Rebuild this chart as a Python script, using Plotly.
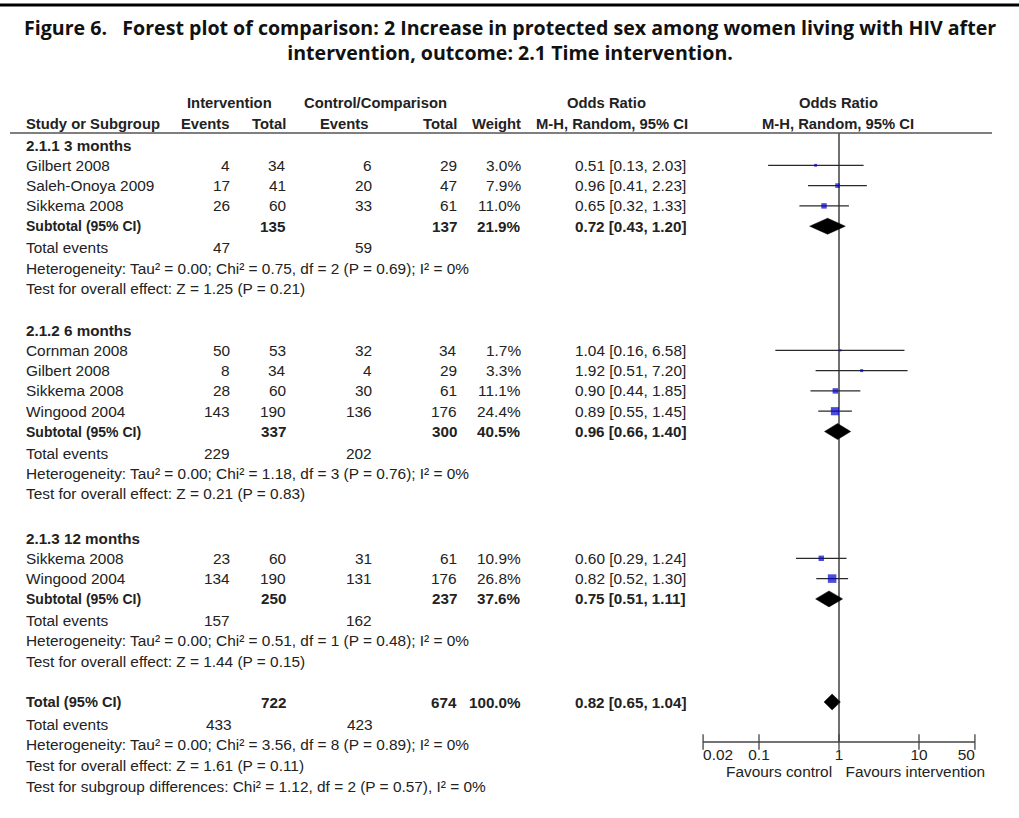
import plotly.graph_objects as go

# ---------------- data ----------------
title_lines = ["Figure 6.   Forest plot of comparison: 2 Increase in protected sex among women living with HIV after",
               "intervention, outcome: 2.1 Time intervention."]

group_labels = ["2.1.1 3 months", "2.1.2 6 months", "2.1.3 12 months"]

study_names = ["Gilbert 2008", "Saleh-Onoya 2009", "Sikkema 2008",
               "Cornman 2008", "Gilbert 2008", "Sikkema 2008", "Wingood 2004",
               "Sikkema 2008", "Wingood 2004"]
study_group = [0, 0, 0, 1, 1, 1, 1, 2, 2]
int_events = [4, 17, 26, 50, 8, 28, 143, 23, 134]
int_total = [34, 41, 60, 53, 34, 60, 190, 60, 190]
ctl_events = [6, 20, 33, 32, 4, 30, 136, 31, 131]
ctl_total = [29, 47, 61, 34, 29, 61, 176, 61, 176]
weights = [3.0, 7.9, 11.0, 1.7, 3.3, 11.1, 24.4, 10.9, 26.8]
or_est = [0.51, 0.96, 0.65, 1.04, 1.92, 0.90, 0.89, 0.60, 0.82]
or_lo = [0.13, 0.41, 0.32, 0.16, 0.51, 0.44, 0.55, 0.29, 0.52]
or_hi = [2.03, 2.23, 1.33, 6.58, 7.20, 1.85, 1.45, 1.24, 1.30]

sub_int_total = [135, 337, 250]
sub_ctl_total = [137, 300, 237]
sub_weight = [21.9, 40.5, 37.6]
sub_or = [0.72, 0.96, 0.75]
sub_lo = [0.43, 0.66, 0.51]
sub_hi = [1.20, 1.40, 1.11]
sub_int_events = [47, 229, 157]
sub_ctl_events = [59, 202, 162]
sub_het = ["Heterogeneity: Tau² = 0.00; Chi² = 0.75, df = 2 (P = 0.69); I² = 0%",
           "Heterogeneity: Tau² = 0.00; Chi² = 1.18, df = 3 (P = 0.76); I² = 0%",
           "Heterogeneity: Tau² = 0.00; Chi² = 0.51, df = 1 (P = 0.48); I² = 0%"]
sub_effect = ["Test for overall effect: Z = 1.25 (P = 0.21)",
              "Test for overall effect: Z = 0.21 (P = 0.83)",
              "Test for overall effect: Z = 1.44 (P = 0.15)"]

tot_int_total = 722
tot_ctl_total = 674
tot_weight = 100.0
tot_or, tot_lo, tot_hi = 0.82, 0.65, 1.04
tot_int_events = 433
tot_ctl_events = 423
tot_het = "Heterogeneity: Tau² = 0.00; Chi² = 3.56, df = 8 (P = 0.89); I² = 0%"
tot_effect = "Test for overall effect: Z = 1.61 (P = 0.11)"
tot_subgroup = "Test for subgroup differences: Chi² = 1.12, df = 2 (P = 0.57), I² = 0%"

tick_vals = [0.02, 0.1, 1, 10, 50]
tick_text = ["0.02", "0.1", "1", "10", "50"]
favours = ["Favours control", "Favours intervention"]

# ---------------- layout helpers ----------------
W, H = 1019, 818
X1 = 839.0      # pixel of OR = 1
DEC = 80.0      # pixels per decade
REG = "Liberation Sans, Arial, sans-serif"
TITLEF = "Open Sans, Lato, sans-serif"
TXT = "#222222"
FS = 15.4
HS = 14.8

# column right edges (px)
C_IE, C_IT, C_CE, C_CT, C_W, C_OR = 232, 288, 374, 459, 523, 688
C_LEFT = 24

annotations = []


def ann(px, y, text, anchor="left", size=FS, family=REG, color=TXT, bold=False, **kw):
    t = f"<b>{text}</b>" if bold else text
    annotations.append(dict(x=px / W, y=y, xref="paper", yref="y", text=t,
                            showarrow=False, xanchor=anchor, yanchor="middle",
                            font=dict(size=size, family=family, color=color), **kw))


# row positions
step = 20.3
group_head_y = [145, 330, 538]
rows = []
sub_y = []
for g, hy in enumerate(group_head_y):
    idx = [i for i, s in enumerate(study_group) if s == g]
    for k, i in enumerate(idx):
        rows.append(hy + step * (k + 1))
    sub_y.append(hy + step * (len(idx) + 1))
total_y = 702

# ---------------- title & header ----------------
ann(W / 2, 40, "<br>".join(title_lines), "center", 19.6, TITLEF, "#111111", True, align="center")

ann(229, 103, "Intervention", "center", HS, REG, TXT, True)
ann(375, 103, "Control/Comparison", "center", HS, REG, TXT, True)
ann(606, 103, "Odds Ratio", "center", HS, REG, TXT, True)
ann(838, 103, "Odds Ratio", "center", HS, REG, TXT, True)
ann(C_LEFT, 124, "Study or Subgroup", "left", HS, REG, TXT, True)
ann(C_IE, 124, "Events", "right", HS, REG, TXT, True)
ann(C_IT, 124, "Total", "right", HS, REG, TXT, True)
ann(371, 124, "Events", "right", HS, REG, TXT, True)
ann(C_CT, 124, "Total", "right", HS, REG, TXT, True)
ann(C_W, 124, "Weight", "right", HS, REG, TXT, True)
ann(612, 124, "M-H, Random, 95% CI", "center", HS, REG, TXT, True)
ann(838, 124, "M-H, Random, 95% CI", "center", HS, REG, TXT, True)

# ---------------- table body ----------------
for g, hy in enumerate(group_head_y):
    ann(C_LEFT, hy, group_labels[g], "left", 15.2, REG, TXT, True)
for i, name in enumerate(study_names):
    y = rows[i]
    ann(C_LEFT, y, name)
    ann(C_IE, y, str(int_events[i]), "right")
    ann(C_IT, y, str(int_total[i]), "right")
    ann(C_CE, y, str(ctl_events[i]), "right")
    ann(C_CT, y, str(ctl_total[i]), "right")
    ann(C_W, y, f"{weights[i]:.1f}%", "right")
    ann(C_OR, y, f"{or_est[i]:.2f} [{or_lo[i]:.2f}, {or_hi[i]:.2f}]", "right")

for g in range(3):
    y = sub_y[g]
    ann(C_LEFT, y, "Subtotal (95% CI)", "left", 14, REG, TXT, True)
    ann(C_IT, y, str(sub_int_total[g]), "right", 15.2, REG, TXT, True)
    ann(C_CT, y, str(sub_ctl_total[g]), "right", 15.2, REG, TXT, True)
    ann(C_W, y, f"{sub_weight[g]:.1f}%", "right", 15.2, REG, TXT, True)
    ann(C_OR, y, f"{sub_or[g]:.2f} [{sub_lo[g]:.2f}, {sub_hi[g]:.2f}]", "right", 15.2, REG, TXT, True)
    ann(C_LEFT, y + 21.5, "Total events")
    ann(C_IE, y + 21.5, str(sub_int_events[g]), "right")
    ann(C_CE, y + 21.5, str(sub_ctl_events[g]), "right")
    ann(C_LEFT, y + 21.5 + step, sub_het[g])
    ann(C_LEFT, y + 21.5 + 2 * step, sub_effect[g])

ann(C_LEFT, total_y, "Total (95% CI)", "left", 14.6, REG, TXT, True)
ann(C_IT, total_y, str(tot_int_total), "right", 15.2, REG, TXT, True)
ann(C_CT, total_y, str(tot_ctl_total), "right", 15.2, REG, TXT, True)
ann(C_W, total_y, f"{tot_weight:.1f}%", "right", 15.2, REG, TXT, True)
ann(C_OR, total_y, f"{tot_or:.2f} [{tot_lo:.2f}, {tot_hi:.2f}]", "right", 15.2, REG, TXT, True)
ann(C_LEFT, total_y + 22, "Total events")
ann(C_IE + 2, total_y + 22, str(tot_int_events), "right")
ann(C_CE + 1, total_y + 22, str(tot_ctl_events), "right")
ann(C_LEFT, total_y + 22 + step * 1.03, tot_het)
ann(C_LEFT, total_y + 22 + step * 2.06, tot_effect)
ann(C_LEFT, total_y + 22 + step * 3.09, tot_subgroup)

# ---------------- forest plot traces ----------------
traces = []
AXIS_Y = 742
traces.append(go.Scatter(x=[1, 1], y=[133, AXIS_Y], mode="lines",
                         line=dict(color="#333333", width=1.4), hoverinfo="skip"))
cx, cy = [], []
for i in range(len(study_names)):
    cx += [or_lo[i], or_hi[i], None]
    cy += [rows[i], rows[i], None]
traces.append(go.Scatter(x=cx, y=cy, mode="lines",
                         line=dict(color="#2a2a2a", width=1.2), hoverinfo="skip"))
traces.append(go.Scatter(x=or_est, y=rows, mode="markers",
                         marker=dict(symbol="square", color="#0000cc",
                                     size=[1.65 * w ** 0.5 for w in weights],
                                     line=dict(width=0)),
                         hoverinfo="skip"))
dx, dy = [], []
pooled = list(zip(sub_or, sub_lo, sub_hi, sub_y)) + [(tot_or, tot_lo, tot_hi, total_y)]
for est, lo, hi, yc in pooled:
    dx += [lo, est, hi, est, lo, None]
    dy += [yc, yc - 8, yc, yc + 8, yc, None]
traces.append(go.Scatter(x=dx, y=dy, mode="lines", fill="toself",
                         fillcolor="#000000", line=dict(color="#000000", width=0.5),
                         hoverinfo="skip"))
traces.append(go.Scatter(x=[tick_vals[0], tick_vals[-1]], y=[AXIS_Y, AXIS_Y], mode="lines",
                         line=dict(color="#444444", width=1.4), hoverinfo="skip"))
traces.append(go.Scatter(x=tick_vals, y=[AXIS_Y] * len(tick_vals), mode="markers",
                         marker=dict(symbol="line-ns", size=11,
                                     line=dict(color="#444444", width=1.3)),
                         hoverinfo="skip"))
tpos = ["middle right"] + ["middle center"] * (len(tick_vals) - 2) + ["middle left"]
traces.append(go.Scatter(x=tick_vals, y=[756] * len(tick_vals), mode="text",
                         text=tick_text, textposition=tpos,
                         textfont=dict(family=REG, size=FS, color=TXT), hoverinfo="skip"))
traces.append(go.Scatter(x=[0.82, 1.21], y=[773, 773], mode="text", text=favours,
                         textposition=["middle left", "middle right"],
                         textfont=dict(family=REG, size=FS, color=TXT), hoverinfo="skip"))

fig = go.Figure(traces)

shapes = [
    dict(type="line", xref="paper", yref="y", x0=0, x1=1, y0=5, y1=5,
         line=dict(color="#000000", width=3)),
    dict(type="line", xref="paper", yref="y", x0=10 / W, x1=992 / W, y0=133, y1=133,
         line=dict(color="#555555", width=1.5)),
]

fig.update_layout(
    width=W, height=H, margin=dict(l=0, r=0, t=0, b=0),
    paper_bgcolor="white", plot_bgcolor="white", showlegend=False,
    xaxis=dict(type="log", range=[(0 - X1) / DEC, (W - X1) / DEC], domain=[0, 1],
               visible=False, fixedrange=True),
    yaxis=dict(range=[H, 0], domain=[0, 1], visible=False, fixedrange=True),
    annotations=annotations, shapes=shapes,
)

fig.write_html("out.html", config={"displayModeBar": False},
               post_script="document.body.style.margin='0';")
